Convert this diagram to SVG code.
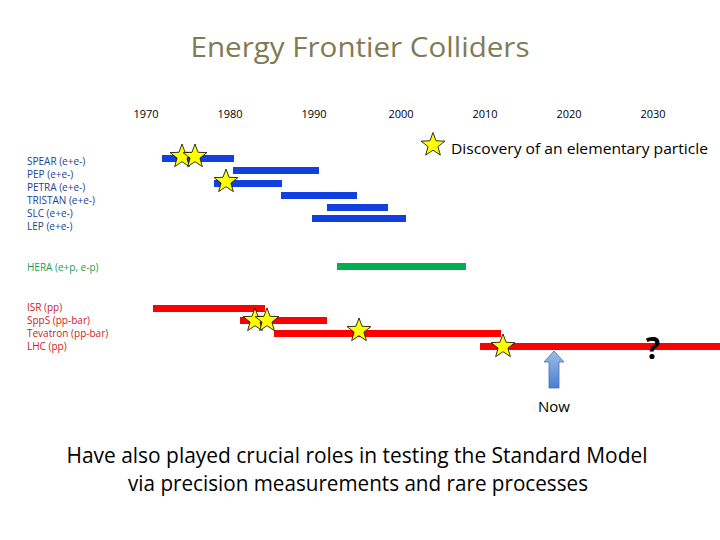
<svg xmlns="http://www.w3.org/2000/svg" xmlns:xlink="http://www.w3.org/1999/xlink" width="720" height="540" viewBox="0 0 720 540">
<style>
text{font-family:"Open Sans","Noto Sans","Liberation Sans",sans-serif}
.yr{font-size:11px;fill:#000;text-anchor:middle}
.lb{font-size:10px}
.ee{fill:#233f94}
.ep{fill:#1f9a55}
.pp{fill:#cc1a1a}
.blue{fill:#1240e0}
.green{fill:#00b050}
.red{fill:#ff0000}
.star{fill:#ffff00;stroke:#000;stroke-width:0.8}
</style>
<defs>
<path id="star" d="M0,-12.5 L3.06,-4.21 11.89,-3.86 4.95,1.61 7.35,10.11 0,5.2 -7.35,10.11 -4.95,1.61 -11.89,-3.86 -3.06,-4.21 Z"/>
<linearGradient id="ag" x1="0" y1="0" x2="0" y2="1">
<stop offset="0" stop-color="#9dbde8"/>
<stop offset="1" stop-color="#4a7fcf"/>
</linearGradient>
</defs>
<rect width="720" height="540" fill="#fff"/>
<text x="360" y="57" font-size="28" fill="#7f7b52" text-anchor="middle" textLength="339" lengthAdjust="spacingAndGlyphs">Energy Frontier Colliders</text>
<g id="years">
<text class="yr" x="146" y="118">1970</text>
<text class="yr" x="230" y="118">1980</text>
<text class="yr" x="314" y="118">1990</text>
<text class="yr" x="401" y="118">2000</text>
<text class="yr" x="485" y="118">2010</text>
<text class="yr" x="569" y="118">2020</text>
<text class="yr" x="653" y="118">2030</text>
</g>
<g id="legend">
<use xlink:href="#star" href="#star" class="star" x="433" y="145"/>
<text x="451" y="154" font-size="15" fill="#000" textLength="257" lengthAdjust="spacingAndGlyphs">Discovery of an elementary particle</text>
</g>
<g id="labels" class="lb">
<text class="ee" x="27" y="165">SPEAR (e+e-)</text>
<text class="ee" x="27" y="178">PEP (e+e-)</text>
<text class="ee" x="27" y="191">PETRA (e+e-)</text>
<text class="ee" x="27" y="204">TRISTAN (e+e-)</text>
<text class="ee" x="27" y="217">SLC (e+e-)</text>
<text class="ee" x="27" y="230">LEP (e+e-)</text>
<text class="ep" x="27" y="271">HERA (e+p, e-p)</text>
<text class="pp" x="27" y="311">ISR (pp)</text>
<text class="pp" x="27" y="324">SppS (pp-bar)</text>
<text class="pp" x="27" y="337">Tevatron (pp-bar)</text>
<text class="pp" x="27" y="350">LHC (pp)</text>
</g>
<g id="SPEAR"><rect class="blue" x="162" y="155" width="72" height="7"/></g>
<g id="PEP"><rect class="blue" x="233" y="167" width="86" height="7"/></g>
<g id="PETRA"><rect class="blue" x="214" y="180" width="68" height="7"/></g>
<g id="TRISTAN"><rect class="blue" x="281" y="192" width="76" height="7"/></g>
<g id="SLC"><rect class="blue" x="327" y="204" width="61" height="7"/></g>
<g id="LEP"><rect class="blue" x="312" y="215" width="94" height="7"/></g>
<g id="HERA"><rect class="green" x="337" y="263" width="129" height="7"/></g>
<g id="ISR"><rect class="red" x="153" y="305" width="112" height="7"/></g>
<g id="SppS"><rect class="red" x="240" y="317" width="87" height="7"/></g>
<g id="Tevatron"><rect class="red" x="274" y="330" width="227" height="7"/></g>
<g id="LHC"><rect class="red" x="480" y="343" width="240" height="7"/></g>
<g id="stars">
<use xlink:href="#star" href="#star" class="star" x="182" y="156.5"/>
<use xlink:href="#star" href="#star" class="star" x="195" y="156.5"/>
<use xlink:href="#star" href="#star" class="star" x="226" y="181.5"/>
<use xlink:href="#star" href="#star" class="star" x="255" y="320.5"/>
<use xlink:href="#star" href="#star" class="star" x="267" y="320.5"/>
<use xlink:href="#star" href="#star" class="star" x="359" y="330.5"/>
<use xlink:href="#star" href="#star" class="star" x="503" y="346.5"/>
</g>
<text x="653" y="359" font-size="30" font-weight="bold" fill="#000" text-anchor="middle" font-family="Liberation Sans, sans-serif">?</text>
<g id="connectors">
<g id="now">
<path d="M554,351 L564,362 L559,362 L559,388 L549,388 L549,362 L544,362 Z" fill="url(#ag)" stroke="#4472b8" stroke-width="0.8"/>
<text x="554" y="412" font-size="15" fill="#000" text-anchor="middle">Now</text>
</g>
</g>
<g id="footer">
<text x="357" y="463" font-size="21" fill="#000" text-anchor="middle" textLength="581" lengthAdjust="spacingAndGlyphs">Have also played crucial roles in testing the Standard Model</text>
<text x="358" y="491" font-size="21" fill="#000" text-anchor="middle" textLength="460" lengthAdjust="spacingAndGlyphs">via precision measurements and rare processes</text>
</g>
</svg>
